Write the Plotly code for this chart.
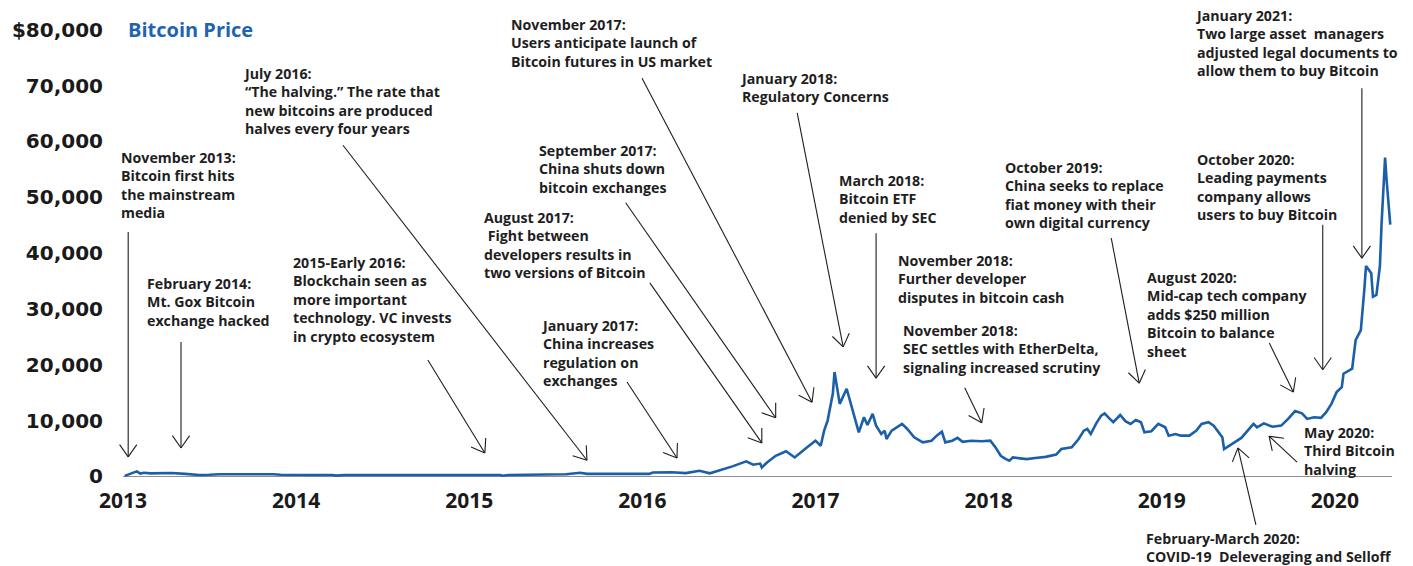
import math
import plotly.graph_objects as go

# Bitcoin price path (decimal year on the chart's time axis, USD)
years = [
    2013.01, 2013.04, 2013.08, 2013.10, 2013.12, 2013.16, 2013.20, 2013.28, 2013.36, 2013.44,
    2013.50, 2013.56, 2013.87, 2013.91, 2014.21, 2014.23, 2014.28, 2014.71, 2015.18, 2015.19,
    2015.23, 2015.56, 2015.64, 2015.68, 2016.04, 2016.06, 2016.17, 2016.25, 2016.33, 2016.39,
    2016.44, 2016.52, 2016.60, 2016.64, 2016.68, 2016.69, 2016.72, 2016.77, 2016.83, 2016.88,
    2016.95, 2017.00, 2017.03, 2017.05, 2017.07, 2017.10, 2017.11, 2017.14, 2017.18, 2017.22,
    2017.25, 2017.28, 2017.30, 2017.33, 2017.35, 2017.38, 2017.40, 2017.41, 2017.44, 2017.50,
    2017.53, 2017.57, 2017.62, 2017.67, 2017.70, 2017.73, 2017.75, 2017.79, 2017.82, 2017.85,
    2017.90, 2017.96, 2018.01, 2018.04, 2018.07, 2018.10, 2018.12, 2018.14, 2018.18, 2018.22,
    2018.27, 2018.33, 2018.39, 2018.42, 2018.48, 2018.52, 2018.55, 2018.57, 2018.59, 2018.62,
    2018.65, 2018.67, 2018.70, 2018.72, 2018.76, 2018.79, 2018.82, 2018.85, 2018.88, 2018.90,
    2018.94, 2018.98, 2019.02, 2019.04, 2019.08, 2019.11, 2019.16, 2019.20, 2019.23, 2019.27,
    2019.30, 2019.33, 2019.35, 2019.36, 2019.39, 2019.43, 2019.46, 2019.51, 2019.53, 2019.55,
    2019.59, 2019.64, 2019.69, 2019.73, 2019.77, 2019.81, 2019.84, 2019.88, 2019.92, 2019.95,
    2019.98, 2020.01, 2020.04, 2020.05, 2020.08, 2020.10, 2020.12, 2020.15, 2020.17, 2020.18,
    2020.21, 2020.22, 2020.24, 2020.26, 2020.27, 2020.29, 2020.30, 2020.32,
]
prices = [
    100, 500, 900, 500, 650, 550, 600, 600, 450, 250,
    300, 400, 400, 300, 250, 150, 250, 280, 250, 120,
    250, 400, 650, 450, 450, 700, 750, 600, 1000, 550,
    1000, 1800, 2700, 2100, 2300, 1600, 2500, 3700, 4500, 3400,
    5200, 6400, 5500, 8200, 10000, 14800, 18700, 13000, 15700, 11200,
    7900, 10600, 9200, 11200, 9100, 7600, 8200, 6700, 8200, 9400,
    8500, 7000, 6100, 6400, 7300, 8000, 6100, 6400, 6900, 6200,
    6400, 6300, 6400, 5200, 3700, 3100, 2800, 3400, 3200, 3100,
    3300, 3500, 3900, 4900, 5200, 6700, 8200, 8500, 7600, 9400,
    10900, 11300, 10300, 9700, 11000, 9900, 9400, 10100, 9700, 7900,
    8100, 9400, 8800, 7300, 7600, 7300, 7300, 8200, 9400, 9700,
    9100, 7900, 7000, 4900, 5500, 6300, 6900, 8700, 9400, 8800,
    9500, 8900, 9100, 10300, 11700, 11300, 10300, 10600, 10500, 11500,
    13000, 15100, 16000, 18400, 19000, 19300, 24400, 26200, 33400, 37700,
    36400, 32200, 32500, 37600, 45400, 57100, 52600, 45100,
]

year_ticks = [2013, 2014, 2015, 2016, 2017, 2018, 2019, 2020]
year_tick_labels = ["2013", "2014", "2015", "2016", "2017", "2018", "2019", "2020"]
price_ticks = [0, 10000, 20000, 30000, 40000, 50000, 60000, 70000, 80000]
price_tick_labels = ["0", "10,000", "20,000", "30,000", "40,000", "50,000",
                     "60,000", "70,000", "$80,000"]

# Event call-outs: label text, arrow target (year, price) or None
event_texts = [
    "November 2013:<br>Bitcoin first hits<br>the mainstream<br>media",
    "February 2014:<br>Mt. Gox Bitcoin<br>exchange hacked",
    "2015-Early 2016:<br>Blockchain seen as<br>more important<br>technology. VC invests<br>in crypto ecosystem",
    "July 2016:<br>\u201cThe halving.\u201d The rate that<br>new bitcoins are produced<br>halves every four years",
    "January 2017:<br>China increases<br>regulation on<br>exchanges",
    "August 2017:<br>&nbsp;Fight between<br>developers results in<br>two versions of Bitcoin",
    "September 2017:<br>China shuts down<br>bitcoin exchanges",
    "November 2017:<br>Users anticipate launch of<br>Bitcoin futures in US market",
    "January 2018:<br>Regulatory Concerns",
    "March 2018:<br>Bitcoin ETF<br>denied by SEC",
    "November 2018:<br>Further developer<br>disputes in bitcoin cash",
    "November 2018:<br>SEC settles with EtherDelta,<br>signaling increased scrutiny",
    "October 2019:<br>China seeks to replace<br>fiat money with their<br>own digital currency",
    "October 2020:<br>Leading payments<br>company allows<br>users to buy Bitcoin",
    "January 2021:<br>Two large asset&nbsp; managers<br>adjusted legal documents to<br>allow them to buy Bitcoin",
    "August 2020:<br>Mid-cap tech company<br>adds $250 million<br>Bitcoin to balance<br>sheet",
    "May 2020:<br>Third Bitcoin<br>halving",
    "February-March 2020:<br>COVID-19&nbsp; Deleveraging and Selloff",
]
# top-left of each label block, in page pixels
event_label_pos = [
    (120, 147), (146, 273), (292, 252), (242, 63), (540, 315), (483, 207),
    (538, 140), (510, 14), (739, 68), (838, 170), (897, 250), (902, 320),
    (1004, 157), (1196, 149), (1194, 5), (1146, 267), (1303, 422), (1145, 528),
]
# arrow head (year, price) and tail offset from the head in pixels (dx, dy; dy downwards)
event_arrows = [
    ((2013.03, 3500), (0, -225)),
    ((2013.335, 5100), (0, -106)),
    ((2015.09, 4200), (-57, -93)),
    ((2015.68, 2900), (-244, -315)),
    ((2016.20, 3300), (-50, -76)),
    ((2016.69, 6000), (-112, -160)),
    ((2016.77, 10500), (-150, -215)),
    ((2016.98, 13300), (-170, -324)),
    ((2017.16, 23200), (-46, -234)),
    ((2017.35, 17600), (0, -145)),
    None,
    ((2017.96, 9600), (-17, -35)),
    ((2018.87, 16700), (-28, -145)),
    ((2019.93, 19100), (0, -145)),
    ((2020.156, 39100), (0, -170)),
    ((2019.76, 15100), (-24, -49)),
    ((2019.62, 7200), (28, 26)),
    ((2019.44, 5100), (18, 77)),
]

# page geometry
W, H = 1413, 566
M_L, M_R, M_T, M_B = 123, 21, 27, 84
X_RANGE = [2013, 2020.33]
Y_RANGE = [-1000, 80500]
plot_w = W - M_L - M_R
plot_h = H - M_T - M_B

LINE_BLUE = "#1b5fa8"
TEXT_DARK = "#1e1e1e"
ANN_FONT = "Open Sans"


def px_to_paper(px, py):
    return (px - M_L) / plot_w, (H - M_B - py) / plot_h


def data_to_paper(yr, usd):
    return ((yr - X_RANGE[0]) / (X_RANGE[1] - X_RANGE[0]),
            (usd - Y_RANGE[0]) / (Y_RANGE[1] - Y_RANGE[0]))


fig = go.Figure()
fig.add_trace(go.Scatter(
    x=years, y=prices, mode="lines",
    line=dict(color=LINE_BLUE, width=2.6),
    hoverinfo="skip", showlegend=False,
))

annotations = []
shapes = []
for text, (lx, ly) in zip(event_texts, event_label_pos):
    ax_, ay_ = px_to_paper(lx, ly)
    annotations.append(dict(
        text=text, x=ax_, y=ay_, xref="paper", yref="paper",
        xanchor="left", yanchor="top", align="left", showarrow=False,
        borderpad=0,
        font=dict(family=ANN_FONT, size=14.2, color=TEXT_DARK, weight=700),
    ))

ARM_LEN = 15
ARM_ANGLE = math.radians(35)
for arrow in event_arrows:
    if arrow is None:
        continue
    (hx, hy), (dx, dy) = arrow
    x0, y0 = data_to_paper(hx, hy)
    # tail, in paper units
    x1 = x0 + dx / plot_w
    y1 = y0 - dy / plot_h
    line_style = dict(color=TEXT_DARK, width=1.1)
    shapes.append(dict(type="line", xref="paper", yref="paper",
                       x0=x0, y0=y0, x1=x1, y1=y1, line=line_style))
    length = math.hypot(dx, dy)
    ux, uy = dx / length, dy / length
    for sgn in (1, -1):
        a = sgn * ARM_ANGLE
        rx = ux * math.cos(a) - uy * math.sin(a)
        ry = ux * math.sin(a) + uy * math.cos(a)
        shapes.append(dict(type="line", xref="paper", yref="paper",
                           x0=x0, y0=y0,
                           x1=x0 + rx * ARM_LEN / plot_w,
                           y1=y0 - ry * ARM_LEN / plot_h,
                           line=line_style))

# chart title next to the top tick label
tx, ty = px_to_paper(127, 30)
annotations.append(dict(
    text="Bitcoin Price", x=tx, y=ty, xref="paper", yref="paper",
    xanchor="left", yanchor="middle", showarrow=False, borderpad=0,
    font=dict(family=ANN_FONT, size=20, color="#1f64b1", weight=700),
))

x_tick_font = dict(family=ANN_FONT, size=21, color="#1a1a1a", weight=700)
y_tick_font = dict(family="DejaVu Sans", size=20, color="#1a1a1a", weight=700)
fig.update_layout(
    width=W, height=H,
    margin=dict(l=M_L, r=M_R, t=M_T, b=M_B, autoexpand=False),
    paper_bgcolor="white", plot_bgcolor="white",
    xaxis=dict(range=X_RANGE, tickvals=year_ticks, ticktext=year_tick_labels,
               showgrid=False, zeroline=False, showline=False, ticks="",
               tickfont=x_tick_font, ticklabelstandoff=4, fixedrange=True),
    yaxis=dict(range=Y_RANGE, tickvals=price_ticks, ticktext=price_tick_labels,
               showgrid=False, zeroline=True, zerolinecolor="#8f8f8f",
               zerolinewidth=1, showline=False, ticks="",
               tickfont=y_tick_font, ticklabelstandoff=19, fixedrange=True),
    annotations=annotations,
    shapes=shapes,
)

fig.write_html("out.html")
